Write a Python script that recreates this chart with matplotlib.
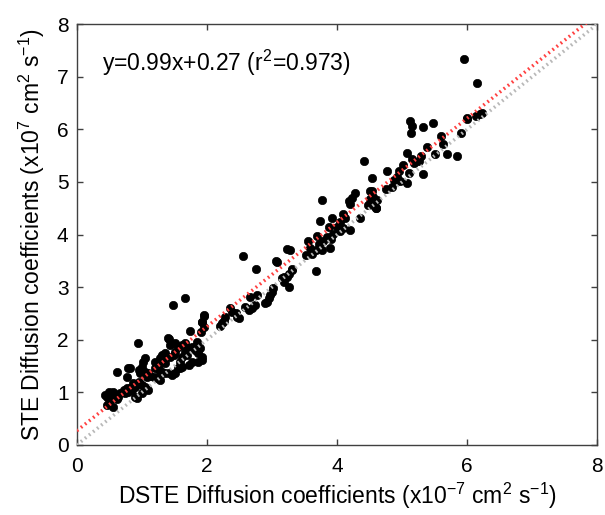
import matplotlib
matplotlib.use("Agg")
import matplotlib.pyplot as plt
import numpy as np

plt.rcParams["font.family"] = ["Liberation Sans", "DejaVu Sans"]
plt.rcParams["mathtext.default"] = "regular"

# DSTE (x) vs STE (y) diffusion coefficients
dste = [
    5.95, 6.15, 5.12, 5.15, 5.14, 5.32, 5.47, 6.00, 6.14, 6.23, 5.91, 5.60, 5.63,
    5.38, 5.50, 5.69, 5.84, 5.07, 5.15, 5.29, 5.26, 5.18, 5.02, 5.32, 5.10, 4.96,
    4.77, 4.93, 4.87, 5.07, 4.97, 4.54, 4.85, 4.76, 4.54, 4.56, 4.62, 4.54, 4.60,
    4.56,
    4.42, 4.51, 4.28, 4.23, 4.18, 4.20, 4.51, 4.56, 4.60, 4.47, 3.77, 4.10, 4.13,
    4.36, 3.92, 3.74, 4.05, 3.87, 4.00, 4.20, 4.10, 4.04, 3.94, 3.69, 3.85, 3.91,
    3.56, 3.79, 3.72, 3.59, 3.90, 3.77, 3.67, 3.53, 3.62, 3.28, 3.31, 3.67,
    3.23, 2.56, 3.06, 2.75, 3.31, 3.26, 3.23, 3.18, 3.15, 3.19, 3.26, 3.02, 3.00,
    2.97, 2.95, 2.92, 2.90, 2.77, 2.67, 2.74, 2.69, 2.64, 2.59, 2.36, 2.38, 2.44,
    2.46, 2.49, 2.28, 2.26, 2.23, 2.20, 1.96, 1.93, 1.91, 1.85, 1.82, 3.07,
    1.67, 1.48, 1.95, 1.92, 1.95, 1.74, 0.94, 1.40, 1.44, 1.51, 1.56, 1.62, 1.67,
    1.72, 1.77, 1.82, 1.87, 1.92, 1.67, 1.69, 1.62, 1.51, 1.49, 1.44, 1.36, 1.31,
    1.28, 1.20, 1.05, 1.02, 1.00, 0.95, 0.97, 1.05, 1.10, 1.08, 1.13, 1.26, 1.31,
    1.36, 1.56, 1.42, 1.46, 1.51, 1.18, 1.23, 1.28, 0.62, 0.79, 0.77, 0.95, 1.00,
    0.87, 0.90, 0.82, 0.85, 0.77, 0.79, 0.72, 0.74, 1.05, 1.10, 1.00, 0.90, 0.92,
    0.67, 0.64, 0.62, 0.56, 0.54, 0.49, 0.46, 0.44, 0.51, 0.49, 0.46, 0.56, 1.20,
    1.26, 1.31, 1.36, 1.62, 1.59, 1.77, 1.72, 1.87, 1.92, 0.82, 1.41, 1.59, 1.90,
    6.20, 6.00,
]
ste = [
    7.33, 6.88, 6.16, 6.06, 5.93, 6.04, 6.12, 6.20, 6.26, 6.31, 5.94, 5.87, 5.72,
    5.67, 5.53, 5.53, 5.50, 5.56, 5.44, 5.50, 5.40, 5.36, 5.32, 5.15, 5.17, 5.20,
    5.20, 5.10, 5.04, 4.99, 5.01, 5.07, 4.91, 4.87, 4.82, 4.72, 4.66, 4.60, 4.50,
    4.57,
    5.40, 4.83, 4.80, 4.69, 4.64, 4.58, 4.68, 4.58, 4.50, 4.56, 4.66, 4.40, 4.31,
    4.31, 4.31, 4.26, 4.23, 4.15, 4.15, 4.09, 4.12, 4.06, 4.02, 3.98, 3.96, 3.92,
    3.87, 3.87, 3.82, 3.75, 3.75, 3.71, 3.71, 3.61, 3.64, 3.71, 3.35, 3.31,
    3.72, 3.59, 3.49, 3.34, 3.33, 3.26, 3.20, 3.20, 3.17, 3.10, 3.01, 2.98, 2.91,
    2.85, 2.79, 2.72, 2.69, 2.86, 2.82, 2.66, 2.61, 2.57, 2.63, 2.61, 2.53, 2.50,
    2.44, 2.42, 2.44, 2.36, 2.31, 2.27, 2.47, 2.33, 2.15, 1.96, 1.87, 3.47,
    2.79, 2.67, 2.45, 2.34, 2.25, 2.17, 1.93, 2.03, 1.90, 1.93, 1.87, 1.90, 1.93,
    1.84, 1.87, 1.81, 1.74, 1.68, 1.77, 1.71, 1.68, 1.77, 1.71, 1.68, 1.74, 1.71,
    1.65, 1.58, 1.65, 1.58, 1.49, 1.43, 1.36, 1.39, 1.36, 1.29, 1.31, 1.43, 1.39,
    1.37, 1.46, 1.36, 1.33, 1.36, 1.30, 1.27, 1.24, 1.39, 1.46, 1.29, 1.20, 1.14,
    1.17, 1.11, 1.08, 1.05, 1.08, 1.01, 1.05, 0.98, 1.11, 1.05, 0.98, 0.92, 0.89,
    0.98, 0.92, 0.87, 1.01, 0.97, 1.01, 0.92, 0.95, 0.86, 0.79, 0.76, 0.73, 1.46,
    1.52, 1.62, 1.55, 1.49, 1.58, 1.58, 1.52, 1.58, 1.62, 1.46, 2.01, 1.46, 1.84,
    6.29, 6.21,
]

slope, intercept, r2 = 0.99, 0.27, 0.973

fig = plt.figure(figsize=(6.05, 5.15), dpi=100)
ax = fig.add_axes([0.127, 0.136, 0.86, 0.817])

ax.scatter(dste, ste, s=36, color="black", edgecolors="black", linewidths=0.5, zorder=2)

xx = np.array([0, 8])
ax.plot(xx, xx, ls=(0, (0.5, 1.0)), lw=2.5, color="#b8b8b8",
        dash_capstyle="butt", zorder=3)
ax.plot(xx, slope * xx + intercept, ls=(0, (0.5, 1.0)), lw=2.5, color="#ff4040",
        dash_capstyle="butt", zorder=4)

ax.text(0.39, 7.26, f"y={slope}x+{intercept} (r$^2$={r2})", fontsize=16.5,
        va="center", ha="left")

ax.set_xlim(0, 8)
ax.set_ylim(0, 8)
ax.set_xticks([0, 2, 4, 6, 8])
ax.set_yticks(range(9))
ax.tick_params(direction="in", top=True, right=True, length=4, width=1,
               labelsize=15, color="#404040")
ax.tick_params(axis="x", pad=9)
ax.tick_params(axis="y", pad=6)
for sp in ax.spines.values():
    sp.set_color("#404040")
    sp.set_linewidth(1)

ax.set_xlabel("DSTE Diffusion coefficients (x10$^{-7}$ cm$^2$ s$^{-1}$)",
              fontsize=16.5, labelpad=3)
ax.set_ylabel("STE Diffusion coefficients (x10$^7$ cm$^2$ s$^{-1}$)",
              fontsize=16.5, labelpad=7)

fig.savefig("out.png", dpi=100)
